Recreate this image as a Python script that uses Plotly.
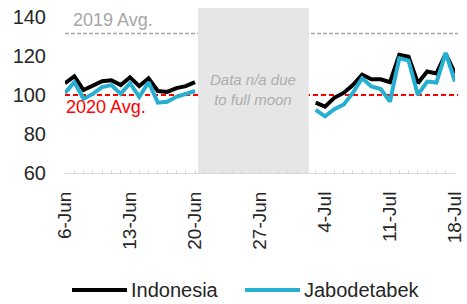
import plotly.graph_objects as go
import pandas as pd

dates_a = pd.date_range("2021-06-06", "2021-06-20").strftime("%Y-%m-%d").tolist()
dates_b = pd.date_range("2021-07-03", "2021-07-18").strftime("%Y-%m-%d").tolist()

indonesia_a = [106, 109.5, 102.5, 105, 107, 107.5, 105, 109, 104.5, 108.5, 102, 101.5, 103.5, 104.5, 106.5]
jabodetabek_a = [101, 106.5, 98, 100.5, 104, 105, 100.5, 106, 99, 106.5, 96, 96.5, 99, 100.5, 102]
indonesia_b = [96, 94, 98.5, 101, 105, 110.3, 108, 108, 106.5, 120.5, 119.5, 106, 112, 111, 121, 111]
jabodetabek_b = [92.3, 89, 92.7, 95, 101, 108.5, 104.3, 103, 96.6, 118.8, 117.6, 100, 106.8, 106.3, 121.5, 106.8]

series_names = ["Indonesia", "Jabodetabek"]
series_colors = ["#000000", "#26AFD1"]

avg_2019 = 131.5
avg_2020 = 100
gap_start = "2021-06-20 08:00"
gap_end = "2021-07-02 06:00"
tick_dates = ["2021-06-06", "2021-06-13", "2021-06-20", "2021-06-27", "2021-07-04", "2021-07-11", "2021-07-18"]
y_ticks = [60, 80, 100, 120, 140]

gap = [None]
dates = dates_a + ["2021-06-25"] + dates_b
indo = indonesia_a + gap + indonesia_b
jabo = jabodetabek_a + gap + jabodetabek_b

W, H = 467, 304
ML, MR, MT, MB = 65, 12, 8, 131
PW, PH = W - ML - MR, H - MT - MB

FONT = "Liberation Sans, Arial, sans-serif"
fig = go.Figure()
for name, ys, col in zip(series_names, [indo, jabo], series_colors):
    fig.add_trace(go.Scatter(x=dates, y=ys, name=name, mode="lines",
                             line=dict(color=col, width=4), connectgaps=False,
                             showlegend=False))

fig.add_shape(type="line", xref="paper", yref="y", x0=0, x1=1.008, y0=avg_2019, y1=avg_2019,
              line=dict(color="#A6A6A6", width=1.5, dash="4px,2px"), layer="below")
fig.add_shape(type="line", xref="paper", yref="y", x0=0, x1=1.008, y0=avg_2020, y1=avg_2020,
              line=dict(color="#FF0000", width=2, dash="5px,3px"), layer="below")
fig.add_shape(type="rect", xref="x", yref="y", x0=gap_start, x1=gap_end, y0=60, y1=144.5,
              fillcolor="#E6E6E6", line=dict(width=0), layer="below")

fig.add_annotation(text="2019 Avg.", xref="paper", yref="y", x=(71 - ML) / PW, y=138.5,
                   xanchor="left", yanchor="middle", showarrow=False,
                   font=dict(family=FONT, size=18, color="#A6A6A6"))
fig.add_annotation(text="2020 Avg.", xref="paper", yref="y", x=-0.003, y=93.6,
                   xanchor="left", yanchor="middle", showarrow=False,
                   font=dict(family=FONT, size=18, color="#FF0000"))
fig.add_annotation(text="Data n/a due<br>to full moon", xref="paper", yref="y", x=(252.5 - ML) / PW, y=102.8,
                   xanchor="center", yanchor="middle", showarrow=False,
                   font=dict(family=FONT, size=15, color="#ADADAD", style="italic"))

# custom legend (Excel-style long line samples)
leg_y = (H - MB - 290) / PH
leg_items = [(72, 127, 129), (245, 300, 302)]
for (x0, x1, xt), name, col in zip(leg_items, series_names, series_colors):
    fig.add_shape(type="line", xref="paper", yref="paper",
                  x0=(x0 - ML) / PW, x1=(x1 - ML) / PW, y0=leg_y, y1=leg_y,
                  line=dict(color=col, width=4))
    fig.add_annotation(text=name, xref="paper", yref="paper", x=(xt - ML) / PW, y=leg_y,
                       xanchor="left", yanchor="middle", showarrow=False,
                       font=dict(family=FONT, size=20, color="#262626"))

fig.update_layout(
    width=W, height=H,
    margin=dict(l=ML, r=MR, t=MT, b=MB),
    paper_bgcolor="white", plot_bgcolor="white",
    font=dict(family=FONT, size=20, color="#262626"),
    showlegend=False,
    xaxis=dict(type="date", range=["2021-06-06", "2021-07-18"], tickvals=tick_dates,
               tickformat="%-d-%b", tickangle=-90, showgrid=False, zeroline=False,
               showline=True, linecolor="#D9D9D9", linewidth=1,
               ticks="inside", ticklen=3, tickcolor="#D9D9D9",
               minor=dict(dtick=86400000, ticks="inside", ticklen=3, tickcolor="#D9D9D9"),
               ticklabelstandoff=10, tickfont=dict(size=19), automargin=False),
    yaxis=dict(range=[60, 144.5], tickvals=y_ticks, showgrid=False, zeroline=False,
               showline=False, ticks="", ticklabelstandoff=18, tickfont=dict(size=20),
               automargin=False),
)

fig.write_html("out.html", config={"displayModeBar": False},
               post_script="document.body.style.margin='0px';document.body.style.overflow='hidden';")
